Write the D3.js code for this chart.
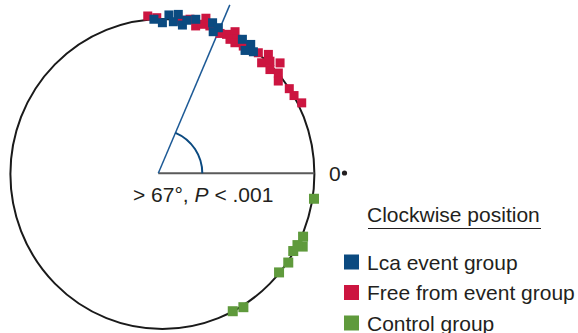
<!DOCTYPE html>
<html>
<head>
<meta charset="utf-8">
<script src="https://cdn.jsdelivr.net/npm/d3@7"></script>
<style>
  body { margin: 0; background: #fff; }
  svg { display: block; font-family: "Liberation Sans", Arial, sans-serif; }
</style>
</head>
<body>
<svg id="chart"></svg>
<script>
// angle in degrees (0 = 3 o'clock, counter-clockwise), r = distance / circle radius
const lcaAngles = [93.2, 87.6, 90, 85.8, 84.2, 82.2, 80.8, 77.6, 71.3, 68.7, 70.0, 58.8, 55.2, 55.7, 52.8];
const lcaRadius = [1.0, 1.027, 0.976, 0.985, 1.035, 0.97, 1.005, 1.022, 1.03, 1.013, 0.977, 1.016, 1.018, 0.965, 0.99];

const freeAngles = [95.4, 92.1, 83.0, 79.7, 77.1, 75.0, 74.1, 71.9, 67.3, 64.9, 62.5, 62.9, 60.6, 60.6, 57.2,
    51.1, 47.9, 47.7, 45.8, 42.8, 43.6, 40.5, 38.2, 33.4, 30.3, 26.6];
const freeRadius = [1.024, 1.009, 1.0, 1.015, 0.98, 1.0, 1.045, 1.005, 0.983, 0.995, 1.035, 0.976, 0.997, 0.972, 0.982,
    1.005, 1.04, 0.97, 1.015, 1.055, 0.977, 1.003, 0.97, 1.0, 1.003, 1.025];

const controlAngles = [-9.1, -23.6, -26.9, -27.3, -30.0, -34.6, -39.6, -58.2, -62.4];
const controlRadius = [1.01, 1.01, 1.035, 1.0, 0.994, 1.006, 0.996, 1.011, 0.999];

const meanAngle = 67;
const groups = ["Lca event group", "Free from event group", "Control group"];
const groupColors = ["#0b4a80", "#cc1540", "#5f9a3c"];

const width = 578, height = 333;
const cx = 162.4, cy = 174, rx = 152, ry = 155;
const vertex = [158.3, 173.3];
const textColor = "#231f20";

const svg = d3.select("#chart").attr("width", width).attr("height", height);

const x = d3.scaleLinear().domain([-1, 1]).range([cx - rx, cx + rx]);
const y = d3.scaleLinear().domain([-1, 1]).range([cy + ry, cy - ry]);
const rad = d => d * Math.PI / 180;

// outer circle
svg.append("ellipse")
    .attr("cx", x(0)).attr("cy", y(0))
    .attr("rx", x(1) - x(0)).attr("ry", y(-1) - y(0))
    .attr("fill", "none")
    .attr("stroke", "#1a1a1a")
    .attr("stroke-width", 2);

// horizontal reference line
svg.append("line")
    .attr("x1", vertex[0]).attr("y1", vertex[1])
    .attr("x2", x(1)).attr("y2", vertex[1])
    .attr("stroke", "#5a5a5a")
    .attr("stroke-width", 2);

// mean direction line
const lineLen = 183;
svg.append("line")
    .attr("x1", vertex[0]).attr("y1", vertex[1])
    .attr("x2", vertex[0] + lineLen * Math.cos(rad(meanAngle)))
    .attr("y2", vertex[1] - lineLen * Math.sin(rad(meanAngle)))
    .attr("stroke", "#1d5a96")
    .attr("stroke-width", 1.5);

// angle arc
const arc = d3.arc()
    .innerRadius(44).outerRadius(44)
    .startAngle(rad(90 - meanAngle)).endAngle(rad(90));
svg.append("path")
    .attr("transform", `translate(${vertex[0]},${vertex[1]})`)
    .attr("d", arc())
    .attr("fill", "none")
    .attr("stroke", "#0b4a80")
    .attr("stroke-width", 2);

// points
function drawGroup(angles, radii, color, size) {
    svg.append("g").selectAll("rect")
        .data(angles.map((a, i) => ({ a, r: radii[i] })))
        .enter().append("rect")
        .attr("x", d => x(d.r * Math.cos(rad(d.a))) - size / 2)
        .attr("y", d => y(d.r * Math.sin(rad(d.a))) - size / 2)
        .attr("width", size).attr("height", size)
        .attr("fill", color);
}
drawGroup(freeAngles, freeRadius, groupColors[1], 9);
drawGroup(lcaAngles, lcaRadius, groupColors[0], 9);
drawGroup(controlAngles, controlRadius, groupColors[2], 10);

// labels
const label = svg.append("text")
    .attr("x", 133).attr("y", 201.5)
    .attr("font-size", 21).attr("fill", textColor);
label.append("tspan").text(`> ${meanAngle}°, `);
label.append("tspan").attr("font-style", "italic").text("P");
label.append("tspan").text(" < .001");

svg.append("text")
    .attr("x", 329).attr("y", 180.5)
    .attr("font-size", 21).attr("fill", textColor)
    .text("0");
svg.append("circle")
    .attr("cx", 344.5).attr("cy", 173)
    .attr("r", 2.6).attr("fill", textColor);

// legend
svg.append("text")
    .attr("x", 367).attr("y", 222)
    .attr("font-size", 21).attr("fill", textColor)
    .text("Clockwise position");
svg.append("line")
    .attr("x1", 368).attr("x2", 541)
    .attr("y1", 228.5).attr("y2", 228.5)
    .attr("stroke", textColor).attr("stroke-width", 1);

const legend = svg.append("g").selectAll("g")
    .data(groups)
    .enter().append("g")
    .attr("transform", (d, i) => `translate(344,${254.5 + i * 30.5})`);
legend.append("rect")
    .attr("width", 15).attr("height", 15)
    .attr("fill", (d, i) => groupColors[i]);
legend.append("text")
    .attr("x", 23).attr("y", 15)
    .attr("font-size", 21).attr("fill", textColor)
    .text(d => d);
</script>
</body>
</html>
